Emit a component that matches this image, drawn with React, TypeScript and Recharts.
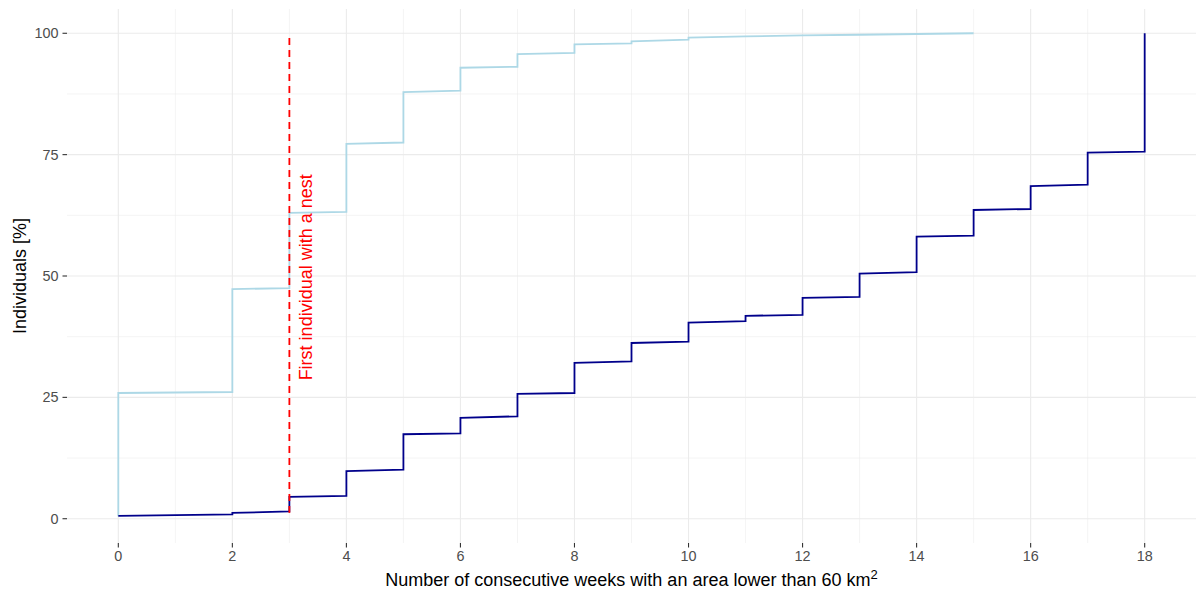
import React from 'react';
import {
  LineChart,
  Line,
  XAxis,
  YAxis,
  CartesianGrid,
  ReferenceLine,
  ReferenceDot,
  Label,
} from 'recharts';

// axis breaks
const weekTicks = [0, 2, 4, 6, 8, 10, 12, 14, 16, 18];
const minorWeeks = [1, 3, 5, 7, 9, 11, 13, 15, 17];
const pctTicks = [0, 25, 50, 75, 100];
const minorPct = [12.5, 37.5, 62.5, 87.5];

// light blue curve: vertices (week, % individuals)
const paleWeeks = [0, 0, 2, 2, 3, 3, 4, 4, 5, 5, 6, 6, 7, 7, 8, 8, 9, 9, 10, 10, 11, 12, 13, 14, 15];
const palePct = [0.5, 25.9, 26.1, 47.3, 47.5, 63.0, 63.2, 77.2, 77.5, 87.9, 88.2, 92.9, 93.1, 95.7, 95.95, 97.7, 97.9, 98.35, 98.7, 99.1, 99.35, 99.55, 99.7, 99.85, 100];

// dark blue curve
const navyWeeks = [0, 2, 2, 3, 3, 4, 4, 5, 5, 6, 6, 7, 7, 8, 8, 9, 9, 10, 10, 11, 11, 12, 12, 13, 13, 14, 14, 15, 15, 16, 16, 17, 17, 18, 18];
const navyPct = [0.6, 0.9, 1.2, 1.5, 4.5, 4.7, 9.8, 10.1, 17.4, 17.6, 20.8, 21.1, 25.7, 25.9, 32.1, 32.4, 36.2, 36.5, 40.4, 40.7, 41.8, 42.0, 45.5, 45.7, 50.5, 50.8, 58.1, 58.3, 63.6, 63.8, 68.5, 68.8, 75.4, 75.6, 100];

// first nest marker
const nestWeek = 3;
const nestLineFrom = 1.2;
const nestLineTo = 100;
const nestLabel = 'First individual with a nest';

const paleData = paleWeeks.map((w, i) => ({ week: w, pct: palePct[i] }));
const navyData = navyWeeks.map((w, i) => ({ week: w, pct: navyPct[i] }));

const FONT = '"Liberation Sans", Arial, Helvetica, sans-serif';
const GRID = '#ebebeb';

export default function App() {
  return (
    <div style={{ position: 'absolute', left: 0, top: 0, background: '#fff' }}>
      <LineChart
        width={1198}
        height={595}
        margin={{ top: 9, right: 2, left: 0, bottom: 0 }}
        style={{ fontFamily: FONT }}
      >
        <CartesianGrid stroke={GRID} strokeWidth={1.1} syncWithTicks />
        {minorWeeks.map((w) => (
          <ReferenceLine key={'mx' + w} x={w} stroke={GRID} strokeWidth={0.55} />
        ))}
        {minorPct.map((p) => (
          <ReferenceLine key={'my' + p} y={p} stroke={GRID} strokeWidth={0.55} />
        ))}
        <XAxis
          type="number"
          dataKey="week"
          domain={[-0.9, 18.9]}
          ticks={weekTicks}
          allowDataOverflow
          axisLine={false}
          tickSize={4.5}
          tickMargin={3.5}
          tickLine={{ stroke: '#333', strokeWidth: 1.1 }}
          tick={{ fill: '#4d4d4d', fontSize: 14.4 }}
          height={52}
        >
          <Label
            content={({ viewBox }: any) => (
              <text
                x={viewBox.x + viewBox.width / 2}
                y={viewBox.y + 43}
                textAnchor="middle"
                fill="#000"
                fontSize={18}
              >
                Number of consecutive weeks with an area lower than 60 km
                <tspan dy={-7} fontSize={13}>2</tspan>
              </text>
            )}
          />
        </XAxis>
        <YAxis
          type="number"
          domain={[-5, 105]}
          ticks={pctTicks}
          allowDataOverflow
          axisLine={false}
          tickSize={4.5}
          tickMargin={4}
          tickLine={{ stroke: '#333', strokeWidth: 1.1 }}
          tick={{ fill: '#4d4d4d', fontSize: 14.4 }}
          width={67}
        >
          <Label
            content={({ viewBox }: any) => {
              const cx = 20;
              const cy = viewBox.y + viewBox.height / 2;
              return (
                <text
                  x={cx}
                  y={cy}
                  transform={`rotate(-90, ${cx}, ${cy})`}
                  textAnchor="middle"
                  dominantBaseline="central"
                  fill="#000"
                  fontSize={18}
                >
                  Individuals [%]
                </text>
              );
            }}
          />
        </YAxis>
        <Line
          data={paleData}
          dataKey="pct"
          type="linear"
          stroke="#add8e6"
          strokeWidth={1.8}
          dot={false}
          activeDot={false}
          isAnimationActive={false}
        />
        <Line
          data={navyData}
          dataKey="pct"
          type="linear"
          stroke="#00008b"
          strokeWidth={1.8}
          dot={false}
          activeDot={false}
          isAnimationActive={false}
        />
        <ReferenceLine
          segment={[
            { x: nestWeek, y: nestLineFrom },
            { x: nestWeek, y: nestLineTo },
          ]}
          stroke="#ff0000"
          strokeWidth={1.8}
          strokeDasharray="7 5"
        />
        <ReferenceDot
          x={3.3}
          y={28.5}
          r={0}
          fill="none"
          stroke="none"
          label={(props: any) => {
            const vb = props.viewBox || {};
            const cx = (vb.x ?? 0) + (vb.width ?? 0) / 2;
            const cy = (vb.y ?? 0) + (vb.height ?? 0) / 2;
            return (
              <text
                x={cx}
                y={cy}
                transform={`rotate(-90, ${cx}, ${cy})`}
                textAnchor="start"
                dominantBaseline="central"
                fill="#ff0000"
                fontSize={18}
              >
                {nestLabel}
              </text>
            );
          }}
        />
      </LineChart>
    </div>
  );
}
